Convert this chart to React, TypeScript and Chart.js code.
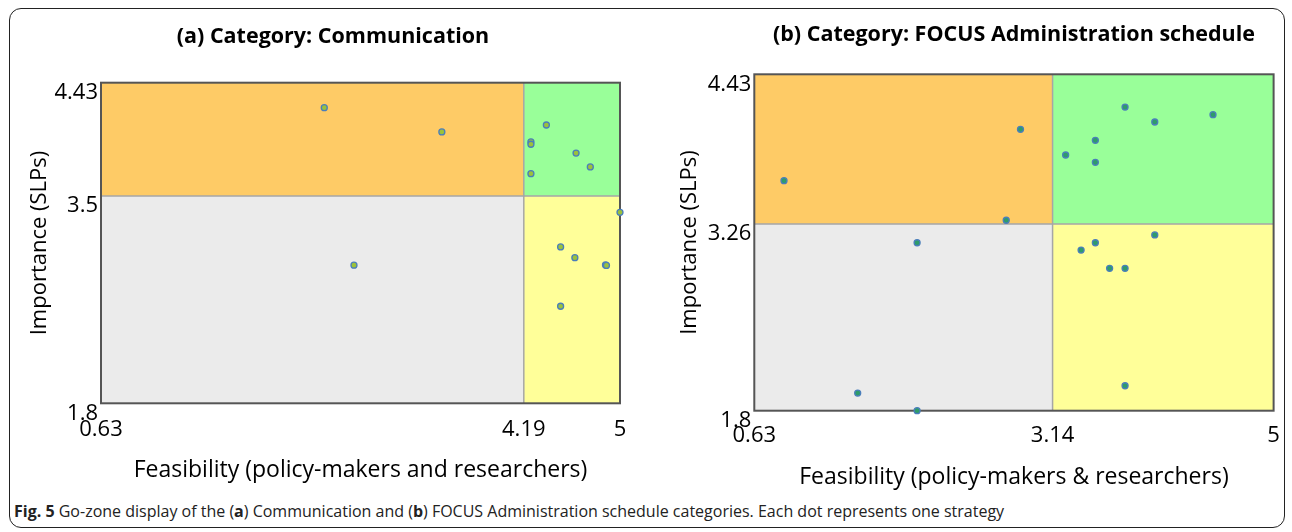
import React, { useEffect, useRef } from "react";
import { Chart, registerables } from "chart.js";

Chart.register(...registerables);

// ---------- Data ----------
const xTickValues = [0.63, 5];
const yTickValues = [1.8, 4.43];

const commSplitX = 4.19;
const commSplitY = 3.5;
const commFeasibility = [2.51, 3.5, 4.38, 4.25, 4.25, 4.63, 4.75, 4.25, 5.0, 4.5, 4.62, 4.878, 4.886, 4.5, 2.76];
const commImportance = [4.225, 4.026, 4.083, 3.945, 3.925, 3.853, 3.739, 3.684, 3.367, 3.083, 2.995, 2.935, 2.931, 2.596, 2.933];

const focusSplitX = 3.14;
const focusSplitY = 3.26;
const focusFeasibility = [0.88, 2.87, 2.75, 3.25, 3.5, 3.5, 3.75, 4.0, 4.49, 2.0, 3.38, 3.5, 3.62, 3.75, 4.0, 3.75, 1.5, 2.0];
const focusImportance = [3.598, 4.0, 3.289, 3.799, 3.914, 3.742, 4.174, 4.057, 4.114, 3.113, 3.056, 3.113, 2.913, 2.913, 3.174, 1.995, 1.938, 1.8];

const commTitle = "(a) Category: Communication";
const focusTitle = "(b) Category: FOCUS Administration schedule";
const yAxisTitle = "Importance (SLPs)";
const commXTitle = "Feasibility (policy-makers and researchers)";
const focusXTitle = "Feasibility (policy-makers & researchers)";

// ---------- Plugin: go-zone quadrants ----------
const goZonePlugin = {
  id: "goZone",
  beforeDatasetsDraw(chart: any, _args: any, opts: any) {
    const { ctx, chartArea, scales } = chart;
    const { left, right, top, bottom } = chartArea;
    const sx = scales.x.getPixelForValue(opts.splitX);
    const sy = scales.y.getPixelForValue(opts.splitY);
    ctx.save();
    ctx.fillStyle = "#FECB66";
    ctx.fillRect(left, top, sx - left, sy - top);
    ctx.fillStyle = "#99FF99";
    ctx.fillRect(sx, top, right - sx, sy - top);
    ctx.fillStyle = "#EBEBEB";
    ctx.fillRect(left, sy, sx - left, bottom - sy);
    ctx.fillStyle = "#FFFF99";
    ctx.fillRect(sx, sy, right - sx, bottom - sy);
    ctx.strokeStyle = "#A6A6A6";
    ctx.lineWidth = 1.5;
    ctx.beginPath();
    ctx.moveTo(sx, top);
    ctx.lineTo(sx, bottom);
    ctx.moveTo(left, sy);
    ctx.lineTo(right, sy);
    ctx.stroke();
    ctx.strokeStyle = "#555555";
    ctx.lineWidth = 2;
    ctx.strokeRect(left, top, right - left, bottom - top);
    ctx.restore();
  },
};

type Geo = {
  width: number;
  height: number;
  padLeft: number;
  padRight: number;
  titleFull: boolean;
  yAxisWidth: number;
  titleTop: number;
  titleBottom: number;
  yTitlePad: number;
  xTickPad: number;
  xAxisHeight: number;
  xTitlePadBottom: number;
};

function GoZone(props: {
  xs: number[];
  ys: number[];
  splitX: number;
  splitY: number;
  title: string;
  xTitle: string;
  dotColor: string;
  geo: Geo;
  left: number;
}) {
  const ref = useRef<HTMLCanvasElement | null>(null);
  useEffect(() => {
    const { xs, ys, splitX, splitY, title, xTitle, dotColor, geo } = props;
    const xTicks = [xTickValues[0], splitX, xTickValues[1]];
    const yTicks = [yTickValues[0], splitY, yTickValues[1]];
    const family = "'Open Sans', sans-serif";
    const chart = new Chart(ref.current as HTMLCanvasElement, {
      type: "scatter",
      data: {
        datasets: [
          {
            data: xs.map((x, i) => ({ x, y: ys[i] })),
            backgroundColor: dotColor,
            borderColor: "#4A7EBB",
            borderWidth: 1.3,
            pointRadius: 3,
            clip: false as any,
          },
        ],
      },
      plugins: [goZonePlugin],
      options: {
        responsive: false,
        animation: false,
        devicePixelRatio: 1,
        layout: { padding: { left: geo.padLeft, right: geo.padRight, top: 0, bottom: 0 } },
        plugins: {
          legend: { display: false },
          tooltip: { enabled: false },
          title: {
            display: true,
            text: title,
            fullSize: geo.titleFull,
            color: "#000",
            font: { family, size: 21.5, weight: "bold" },
            padding: { top: geo.titleTop, bottom: geo.titleBottom },
          },
          goZone: { splitX, splitY },
        } as any,
        scales: {
          x: {
            type: "linear",
            min: 0.63,
            max: 5,
            grid: { display: false, drawTicks: false },
            border: { display: false },
            afterBuildTicks: (s: any) => {
              s.ticks = xTicks.map((v) => ({ value: v }));
            },
            afterFit: (s: any) => {
              s.height = geo.xAxisHeight;
            },
            ticks: {
              autoSkip: false,
              maxRotation: 0,
              color: "#000",
              font: { family, size: 22 },
              padding: geo.xTickPad,
              callback: (v: any) => String(v),
            },
            title: {
              display: true,
              text: xTitle,
              color: "#000",
              font: { family, size: 23 },
              padding: { top: 0, bottom: geo.xTitlePadBottom },
            },
          },
          y: {
            type: "linear",
            min: 1.8,
            max: 4.43,
            grid: { display: false, drawTicks: false },
            border: { display: false },
            afterBuildTicks: (s: any) => {
              s.ticks = yTicks.map((v) => ({ value: v }));
            },
            afterFit: (s: any) => {
              s.width = geo.yAxisWidth;
            },
            ticks: {
              autoSkip: false,
              color: "#000",
              font: { family, size: 22 },
              padding: 3,
              labelOffset: 10,
              callback: (v: any) => String(v),
            },
            title: {
              display: true,
              text: yAxisTitle,
              color: "#000",
              font: { family, size: 22 },
              padding: { top: geo.yTitlePad, bottom: 0 },
            },
          },
        },
      } as any,
    });
    return () => chart.destroy();
  }, []);
  return (
    <canvas
      ref={ref}
      width={props.geo.width}
      height={props.geo.height}
      style={{ position: "absolute", left: props.left, top: 0, width: props.geo.width, height: props.geo.height }}
    />
  );
}

const geoA: Geo = {
  width: 646,
  height: 500,
  padLeft: 46,
  padRight: 26,
  titleFull: true,
  yAxisWidth: 55,
  titleTop: 24.1,
  titleBottom: 32.8,
  yTitlePad: -19.2,
  xTickPad: 13.5,
  xAxisHeight: 96.7,
  xTitlePadBottom: 16.2,
};

const geoB: Geo = {
  width: 646,
  height: 500,
  padLeft: 0,
  padRight: 18,
  titleFull: false,
  yAxisWidth: 108.3,
  titleTop: 22.1,
  titleBottom: 26.4,
  yTitlePad: 30.8,
  xTickPad: 12.1,
  xAxisHeight: 89.3,
  xTitlePadBottom: 9.2,
};

export default function App() {
  return (
    <div
      style={{
        position: "absolute",
        left: 0,
        top: 0,
        width: 1292,
        height: 532,
        background: "#fff",
        overflow: "hidden",
      }}
    >
      <div
        style={{
          position: "absolute",
          left: 9,
          top: 8,
          width: 1276,
          height: 520,
          border: "1.5px solid #222",
          borderRadius: 12,
          boxSizing: "border-box",
        }}
      />
      <GoZone
        xs={commFeasibility}
        ys={commImportance}
        splitX={commSplitX}
        splitY={commSplitY}
        title={commTitle}
        xTitle={commXTitle}
        dotColor="#9CC23A"
        geo={geoA}
        left={0}
      />
      <GoZone
        xs={focusFeasibility}
        ys={focusImportance}
        splitX={focusSplitX}
        splitY={focusSplitY}
        title={focusTitle}
        xTitle={focusXTitle}
        dotColor="#2E9C6A"
        geo={geoB}
        left={646}
      />
      <div
        style={{
          position: "absolute",
          left: 14,
          top: 500,
          fontFamily: "'Open Sans', sans-serif",
          fontSize: 16,
          color: "#222",
          whiteSpace: "nowrap",
          lineHeight: "22px",
        }}
      >
        <b>Fig. 5</b> Go-zone display of the (<b>a</b>) Communication and (<b>b</b>) FOCUS Administration schedule
        categories. Each dot represents one strategy
      </div>
    </div>
  );
}
